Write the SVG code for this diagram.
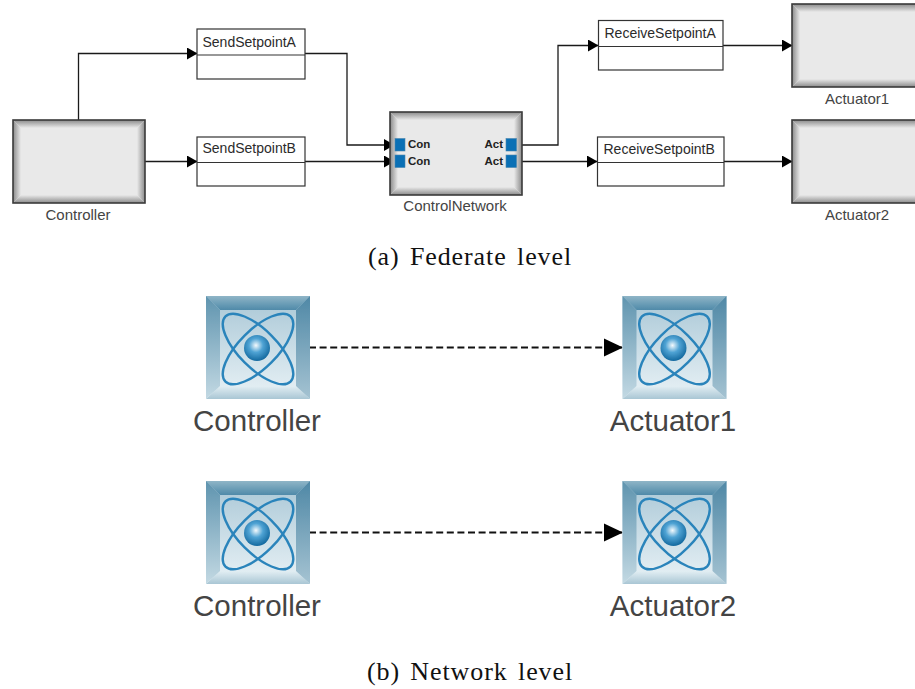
<svg xmlns="http://www.w3.org/2000/svg" width="915" height="689" viewBox="0 0 915 689">
<style>
.lbl{font-family:"Liberation Sans",Arial,sans-serif;font-size:14px;fill:#2b2b2b}
.sub{font-family:"Liberation Sans",Arial,sans-serif;font-size:15px;fill:#444;text-anchor:middle}
.port{font-family:"Liberation Sans",Arial,sans-serif;font-size:11.500px;font-weight:bold;fill:#222}
.big{font-family:"Liberation Sans",Arial,sans-serif;font-size:29.500px;fill:#444;text-anchor:middle}
.cap{font-family:"Liberation Serif","Times New Roman",serif;font-size:26px;letter-spacing:.9px;word-spacing:3px;fill:#111;text-anchor:middle}
.box{fill:#fff;stroke:#333;stroke-width:1.2}
.con{fill:none;stroke:#1a1a1a;stroke-width:1.3}
.dash{fill:none;stroke:#111;stroke-width:2;stroke-dasharray:7 3.6}
.pt{fill:#0b70b5;stroke:#4a86ad;stroke-width:.6}
.orb{fill:none;stroke:#2a84bb;stroke-width:2.4}
</style>
<defs>
<filter id="soft" x="-5%" y="-5%" width="110%" height="110%"><feGaussianBlur stdDeviation=".5"/></filter>
<marker id="arr" markerUnits="userSpaceOnUse" markerWidth="11" markerHeight="12" refX="10" refY="6" orient="auto"><path d="M0 0L10.500 6L0 12Z" fill="#000"/></marker>
<marker id="arrB" markerUnits="userSpaceOnUse" markerWidth="20" markerHeight="20" refX="18" refY="10" orient="auto"><path d="M0 1L19 10L0 19Z" fill="#000"/></marker>
<linearGradient id="gT" x1="0" y1="0" x2="0" y2="1"><stop offset="0" stop-color="#8a8a8a"/><stop offset="1" stop-color="#e9e9e9"/></linearGradient>
<linearGradient id="gB" x1="0" y1="1" x2="0" y2="0"><stop offset="0" stop-color="#8a8a8a"/><stop offset="1" stop-color="#e9e9e9"/></linearGradient>
<linearGradient id="gL" x1="0" y1="0" x2="1" y2="0"><stop offset="0" stop-color="#8a8a8a"/><stop offset="1" stop-color="#e9e9e9"/></linearGradient>
<linearGradient id="gR" x1="1" y1="0" x2="0" y2="0"><stop offset="0" stop-color="#8a8a8a"/><stop offset="1" stop-color="#e9e9e9"/></linearGradient>
<g id="block">
<rect x="0" y="0" width="132" height="83" fill="#e9e9e9"/>
<path d="M0 0H132L124 8H8Z" fill="url(#gT)"/>
<path d="M0 83H132L124 75H8Z" fill="url(#gB)"/>
<path d="M0 0V83L8 75V8Z" fill="url(#gL)"/>
<path d="M132 0V83L124 75V8Z" fill="url(#gR)"/>
<rect x="0" y="0" width="132" height="83" fill="none" stroke="#3a3a3a" stroke-width="1.6"/>
</g>
<linearGradient id="iT" x1="0" y1="0" x2="0" y2="1"><stop offset="0" stop-color="#8fb5c7"/><stop offset="1" stop-color="#4f8aa9"/></linearGradient>
<linearGradient id="iB" x1="0" y1="0" x2="0" y2="1"><stop offset="0" stop-color="#e2eef3"/><stop offset="1" stop-color="#a9c6d4"/></linearGradient>
<linearGradient id="iL" x1="0" y1="0" x2="0" y2="1"><stop offset="0" stop-color="#5f94af"/><stop offset="1" stop-color="#c3d9e3"/></linearGradient>
<linearGradient id="iR" x1="0" y1="0" x2="0" y2="1"><stop offset="0" stop-color="#4f88a6"/><stop offset="1" stop-color="#a5c3d2"/></linearGradient>
<linearGradient id="iC" x1="0" y1="0" x2="0" y2="1"><stop offset="0" stop-color="#a9c7d6"/><stop offset="1" stop-color="#e9f2f6"/></linearGradient>
<radialGradient id="ball" cx=".46" cy=".4" r=".6"><stop offset="0" stop-color="#f4fafd"/><stop offset=".45" stop-color="#4fa3d4"/><stop offset="1" stop-color="#14699f"/></radialGradient>
<g id="icon" filter="url(#soft)">
<rect x="0" y="0" width="104" height="103" fill="url(#iC)"/>
<path d="M0 0H104L90 14H14Z" fill="url(#iT)"/>
<path d="M0 103H104L90 90H14Z" fill="url(#iB)"/>
<path d="M0 0V103L14 90V14Z" fill="url(#iL)"/>
<path d="M104 0V103L90 90V14Z" fill="url(#iR)"/>
<ellipse cx="52" cy="53" rx="46" ry="19" class="orb" transform="rotate(45 52 53)"/>
<ellipse cx="52" cy="53" rx="46" ry="19" class="orb" transform="rotate(-45 52 53)"/>
<circle cx="51" cy="52" r="13" fill="url(#ball)"/>
</g>
</defs>
<rect width="915" height="689" fill="#fff"/>

<g id="connectors">
<path class="con" d="M78.500 120V53.500H197" marker-end="url(#arr)"/>
<path class="con" d="M145 161.500H197" marker-end="url(#arr)"/>
<path class="con" d="M305 53.500H347V145H394" marker-end="url(#arr)"/>
<path class="con" d="M305 161.500H394" marker-end="url(#arr)"/>
<path class="con" d="M517 145H558V45.500H598" marker-end="url(#arr)"/>
<path class="con" d="M517 161.500H597" marker-end="url(#arr)"/>
<path class="con" d="M723 45.500H792" marker-end="url(#arr)"/>
<path class="con" d="M724 161.500H792" marker-end="url(#arr)"/>
<path class="dash" d="M309 347.500H622" marker-end="url(#arrB)"/>
<path class="dash" d="M309 532.500H622" marker-end="url(#arrB)"/>
</g>

<g id="controller"><use href="#block" x="13" y="120"/><text class="sub" x="78" y="220">Controller</text></g>
<g id="send-a"><rect class="box" x="197" y="29" width="108" height="50"/><path class="box" d="M197 55H305"/><text class="lbl" x="202.500" y="47">SendSetpointA</text></g>
<g id="send-b"><rect class="box" x="197" y="137" width="108" height="49"/><path class="box" d="M197 162.500H305"/><text class="lbl" x="202.500" y="153">SendSetpointB</text></g>
<g id="control-network"><use href="#block" x="390" y="112"/>
<rect class="pt" x="395" y="138.500" width="10" height="12.500"/><rect class="pt" x="395" y="155" width="10" height="12.500"/>
<rect class="pt" x="506" y="138.500" width="10.500" height="12.500"/><rect class="pt" x="506" y="155" width="10.500" height="12.500"/>
<text class="port" x="408" y="148">Con</text><text class="port" x="408" y="165">Con</text>
<text class="port" x="484.500" y="148">Act</text><text class="port" x="484.500" y="165">Act</text>
<text class="sub" x="455" y="211">ControlNetwork</text></g>
<g id="receive-a"><rect class="box" x="598.500" y="20.500" width="124.500" height="49.500"/><path class="box" d="M598.500 46.500H723"/><text class="lbl" x="604.500" y="38">ReceiveSetpointA</text></g>
<g id="receive-b"><rect class="box" x="597.500" y="137" width="126.500" height="49"/><path class="box" d="M597.500 162.500H724"/><text class="lbl" x="603.500" y="154">ReceiveSetpointB</text></g>
<g id="actuator1"><use href="#block" x="792" y="4"/><text class="sub" x="857" y="104">Actuator1</text></g>
<g id="actuator2"><use href="#block" x="792" y="120"/><text class="sub" x="857" y="220">Actuator2</text></g>
<text class="cap" x="470" y="265">(a) Federate level</text>
<g id="net-controller-1"><use href="#icon" x="206" y="296"/><text class="big" x="257" y="431">Controller</text></g>
<g id="net-actuator-1"><use href="#icon" x="622.500" y="296"/><text class="big" x="673" y="431">Actuator1</text></g>
<g id="net-controller-2"><use href="#icon" x="206" y="481"/><text class="big" x="257" y="616">Controller</text></g>
<g id="net-actuator-2"><use href="#icon" x="622.500" y="481"/><text class="big" x="673" y="616">Actuator2</text></g>
<text class="cap" x="470" y="680">(b) Network level</text>
</svg>
